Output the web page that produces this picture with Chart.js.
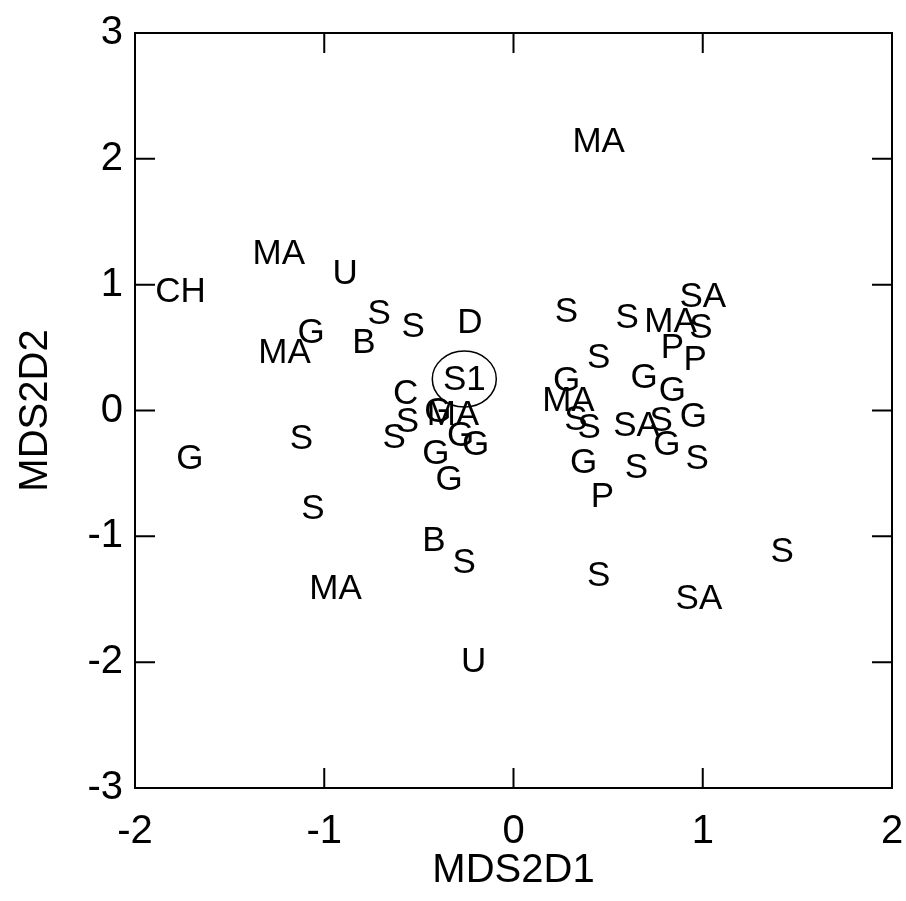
<!DOCTYPE html>
<html>
<head>
<meta charset="utf-8">
<script src="https://cdn.jsdelivr.net/npm/chart.js@4/dist/chart.umd.min.js"></script>
<style>
html,body{margin:0;padding:0;background:#fff;}
#wrap{width:906px;height:901px;}
</style>
</head>
<body>
<div id="wrap"><canvas id="c" width="906" height="901"></canvas></div>
<script>
const pointLabels = ["MA","MA","U","CH","SA","S","G","S","D","S","S","MA","S","B","MA","P","P","S","S1","G","G","G","C","MA","MA","G","S","S","G","G","G","G","S","S","SA","S","G","G","S","S","G","P","S","G","S","B","S","S","MA","SA","S","U"];
const xValues = [0.45,-1.24,-0.89,-1.76,1.00,-0.71,-1.07,-0.53,-0.23,0.28,0.60,0.83,0.99,-0.79,-1.21,0.84,0.96,0.45,-0.26,0.28,0.69,0.84,-0.57,0.29,-0.32,-0.40,-0.56,-0.63,-0.28,-0.20,-0.41,-0.34,0.33,0.40,0.65,0.78,0.95,0.81,0.97,0.65,0.37,0.47,-1.12,-1.71,-1.06,-0.42,-0.26,0.45,-0.94,0.98,1.42,-0.21];
const yValues = [2.14,1.25,1.09,0.95,0.91,0.77,0.62,0.67,0.70,0.79,0.74,0.71,0.66,0.54,0.46,0.50,0.41,0.42,0.25,0.24,0.26,0.16,0.14,0.08,-0.03,-0.01,-0.09,-0.21,-0.20,-0.27,-0.34,-0.55,-0.07,-0.13,-0.12,-0.08,-0.05,-0.27,-0.38,-0.45,-0.41,-0.68,-0.22,-0.38,-0.78,-1.03,-1.21,-1.31,-1.41,-1.49,-1.12,-1.99];
const xTicks = [-2,-1,0,1,2];
const yTicks = [-3,-2,-1,0,1,2,3];
const highlightLabel = "S1";

const FONT = "'Liberation Sans', Arial, Helvetica, sans-serif";
const points = xValues.map((x,i)=>({x:x,y:yValues[i],label:pointLabels[i]}));

const framePlugin = {
  id:'frame',
  afterDatasetsDraw(chart){
    const ctx = chart.ctx, a = chart.chartArea;
    const xs = chart.scales.x, ys = chart.scales.y;
    ctx.save();
    ctx.fillStyle = '#000';
    ctx.font = "35px " + FONT;
    ctx.textAlign = 'center';
    ctx.textBaseline = 'middle';
    points.forEach(p=>{
      const px = xs.getPixelForValue(p.x), py = ys.getPixelForValue(p.y);
      ctx.fillText(p.label, px, py+1);
      if (p.label === highlightLabel){
        ctx.beginPath();
        ctx.lineWidth = 1.5;
        ctx.strokeStyle = '#000';
        ctx.ellipse(px, py, 32, 28, 0, 0, Math.PI*2);
        ctx.stroke();
      }
    });
    ctx.strokeStyle = '#000';
    ctx.lineWidth = 2;
    ctx.strokeRect(a.left, a.top, a.right-a.left, a.bottom-a.top);
    const tl = 20;
    ctx.beginPath();
    xTicks.forEach(v=>{
      const px = xs.getPixelForValue(v);
      ctx.moveTo(px, a.bottom); ctx.lineTo(px, a.bottom-tl);
      ctx.moveTo(px, a.top); ctx.lineTo(px, a.top+tl);
    });
    yTicks.forEach(v=>{
      const py = ys.getPixelForValue(v);
      ctx.moveTo(a.left, py); ctx.lineTo(a.left+tl, py);
      ctx.moveTo(a.right, py); ctx.lineTo(a.right-tl, py);
    });
    ctx.stroke();
    ctx.restore();
  }
};

new Chart(document.getElementById('c'), {
  type:'scatter',
  data:{datasets:[{data:points, pointRadius:0, pointHoverRadius:0, showLine:false}]},
  options:{
    responsive:false,
    animation:false,
    devicePixelRatio:1,
    layout:{padding:{top:33,right:14,left:0,bottom:0}},
    plugins:{legend:{display:false},tooltip:{enabled:false}},
    scales:{
      x:{
        type:'linear', min:-2, max:2,
        afterBuildTicks(s){ s.ticks = xTicks.map(v=>({value:v})); },
        afterFit(s){ s.height = 113; s.paddingLeft = 0; s.paddingRight = 0; },
        grid:{display:false, drawTicks:false},
        border:{display:false},
        ticks:{color:'#000', font:{family:FONT,size:40}, padding:20, maxRotation:0, callback:v=>String(v)},
        title:{display:true, text:'MDS2D1', color:'#000', font:{family:FONT,size:40}, padding:{top:0,bottom:6}}
      },
      y:{
        type:'linear', min:-3, max:3,
        afterBuildTicks(s){ s.ticks = yTicks.map(v=>({value:v})); },
        afterFit(s){ s.width = 135; s.paddingTop = 0; s.paddingBottom = 0; },
        grid:{display:false, drawTicks:false},
        border:{display:false},
        ticks:{color:'#000', font:{family:FONT,size:40}, padding:12, callback:v=>String(v)},
        title:{display:true, text:'MDS2D2', color:'#000', font:{family:FONT,size:40}, padding:{top:12,bottom:0}}
      }
    }
  },
  plugins:[framePlugin]
});
</script>
</body>
</html>
